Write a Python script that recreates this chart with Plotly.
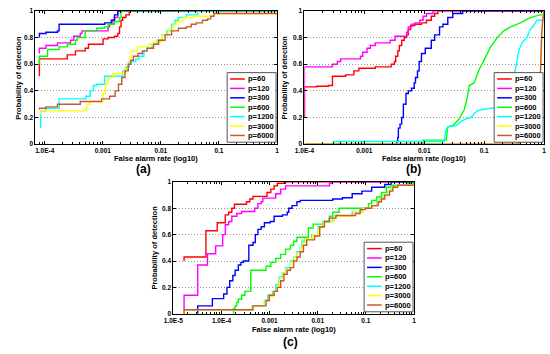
import plotly.graph_objects as go

# ---------------- data ----------------
LABELS = ["p=60", "p=120", "p=300", "p=600", "p=1200", "p=3000", "p=6000"]
COLORS = ["#ff0000", "#ff00ff", "#0000ff", "#00ff00", "#00ffff", "#ffff00", "#cc5533"]

# panel (a)
A_FAR_60 = [8.1e-5, 8.1e-5, 2.44e-4, 3.38e-4, 4.97e-4, 5.66e-4, 1.01e-3, 1.23e-3, 1.59e-3, 1.81e-3, 1.94e-3, 2.06e-3, 2.2e-3, 2.5e-3, 2.85e-3, 1.0]
A_PD_60 = [0.51, 0.64, 0.67, 0.70, 0.72, 0.75, 0.79, 0.80, 0.81, 0.83, 0.88, 0.93, 0.95, 0.97, 1.0, 1.0]
A_FAR_120 = [8.1e-5, 8.1e-5, 1.05e-4, 1.66e-4, 2.78e-4, 3.16e-4, 4.09e-4, 4.37e-4, 1.23e-3, 1.31e-3, 1.49e-3, 1.59e-3, 1.81e-3, 1.0]
A_PD_120 = [0.68, 0.72, 0.74, 0.76, 0.78, 0.81, 0.83, 0.85, 0.88, 0.90, 0.93, 0.95, 1.0, 1.0]
A_FAR_300 = [8.1e-5, 8.1e-5, 1.05e-4, 1.66e-4, 1.77e-4, 1.08e-3, 1.40e-3, 1.59e-3, 1.81e-3, 1.0]
A_PD_300 = [0.80, 0.83, 0.84, 0.85, 0.90, 0.91, 0.93, 0.97, 1.0, 1.0]
A_FAR_600 = [8.1e-5, 8.1e-5, 1.12e-4, 1.77e-4, 2.44e-4, 3.38e-4, 3.6e-4, 4.97e-4, 7.82e-4, 1.08e-3, 1.23e-3, 1.59e-3, 1.94e-3, 2.06e-3, 1.0]
A_PD_600 = [0.60, 0.66, 0.71, 0.73, 0.75, 0.78, 0.80, 0.85, 0.87, 0.88, 0.90, 0.92, 0.95, 1.0, 1.0]
A_FAR_1200 = [8.5e-5, 8.5e-5, 1.05e-4, 1.77e-4, 5.1e-4, 6.04e-4, 6.87e-4, 7.82e-4, 1.08e-3, 2.2e-3, 2.5e-3, 2.85e-3, 3.7e-3, 4.2e-3, 5.1e-3, 5.8e-3, 7.05e-3, 8.6e-3, 1.04e-2, 1.26e-2, 1.53e-2, 1.75e-2, 2.0e-2, 2.74e-2, 4.3e-2, 1.0]
A_PD_1200 = [0.12, 0.25, 0.27, 0.34, 0.36, 0.40, 0.44, 0.45, 0.51, 0.55, 0.58, 0.62, 0.64, 0.66, 0.70, 0.72, 0.75, 0.78, 0.82, 0.85, 0.90, 0.93, 0.95, 0.97, 1.0, 1.0]
A_FAR_3000 = [8.5e-5, 8.5e-5, 5.3e-4, 6.04e-4, 1.01e-3, 1.11e-3, 1.23e-3, 1.49e-3, 2.35e-3, 2.67e-3, 2.96e-3, 3.12e-3, 3.94e-3, 6.2e-3, 7.5e-3, 1.04e-2, 1.35e-2, 1.63e-2, 1.86e-2, 2.41e-2, 3.55e-2, 8.2e-2, 1.0]
A_PD_3000 = [0.22, 0.25, 0.30, 0.32, 0.38, 0.45, 0.50, 0.53, 0.56, 0.60, 0.65, 0.70, 0.73, 0.75, 0.77, 0.82, 0.86, 0.90, 0.92, 0.95, 0.96, 0.98, 0.98]
A_FAR_6000 = [8.1e-5, 8.1e-5, 1.05e-4, 1.66e-4, 4.09e-4, 9.5e-4, 1.31e-3, 1.63e-3, 1.86e-3, 2.12e-3, 2.41e-3, 2.74e-3, 3.04e-3, 3.37e-3, 4.04e-3, 4.79e-3, 5.8e-3, 7.5e-3, 9.14e-3, 1.18e-2, 1.53e-2, 2.0e-2, 2.74e-2, 3.33e-2, 4.05e-2, 5.2e-2, 6.36e-2, 7.2e-2, 8.2e-2, 1.0]
A_PD_6000 = [0.26, 0.27, 0.28, 0.30, 0.32, 0.34, 0.36, 0.40, 0.45, 0.50, 0.55, 0.60, 0.63, 0.66, 0.68, 0.70, 0.72, 0.75, 0.78, 0.82, 0.85, 0.87, 0.88, 0.90, 0.91, 0.93, 0.94, 0.96, 0.98, 0.98]

# panel (b)
B_FAR_60 = [1e-4, 1e-4, 1.6e-4, 2.5e-4, 2.94e-4, 4.87e-4, 6.68e-4, 8.09e-4, 1.52e-3, 2.8e-3, 3.18e-3, 3.34e-3, 3.61e-3, 3.84e-3, 4.2e-3, 4.65e-3, 5.08e-3, 5.41e-3, 5.91e-3, 6.97e-3, 8.98e-3, 1.09e-2, 1.31e-2, 1.49e-2, 1.69e-2, 1.0]
B_PD_60 = [0.20, 0.43, 0.435, 0.44, 0.51, 0.52, 0.55, 0.57, 0.58, 0.60, 0.62, 0.66, 0.70, 0.74, 0.78, 0.80, 0.82, 0.86, 0.89, 0.90, 0.91, 0.93, 0.96, 0.98, 1.0, 1.0]
B_FAR_120 = [1e-4, 1e-4, 2.94e-4, 3.55e-4, 4.03e-4, 8.62e-4, 9.4e-4, 1.11e-3, 1.26e-3, 1.52e-3, 2.7e-3, 3.26e-3, 5.08e-3, 5.41e-3, 6.14e-3, 6.97e-3, 8.43e-3, 9.57e-3, 1.09e-2, 1.40e-2, 1.0]
B_PD_120 = [0.20, 0.58, 0.60, 0.62, 0.64, 0.66, 0.69, 0.72, 0.74, 0.76, 0.78, 0.81, 0.84, 0.88, 0.90, 0.91, 0.93, 0.96, 0.98, 1.0, 1.0]
B_FAR_300 = [3.47e-3, 3.47e-3, 3.61e-3, 3.7e-3, 3.94e-3, 4.2e-3, 4.48e-3, 4.95e-3, 5.41e-3, 6.14e-3, 6.8e-3, 7.14e-3, 7.71e-3, 8.22e-3, 8.98e-3, 1.04e-2, 1.31e-2, 1.49e-2, 1.80e-2, 2.05e-2, 2.47e-2, 2.99e-2, 4.38e-2, 1.0]
B_PD_300 = [0.0, 0.02, 0.05, 0.12, 0.15, 0.20, 0.30, 0.38, 0.40, 0.42, 0.46, 0.50, 0.55, 0.62, 0.68, 0.72, 0.78, 0.82, 0.88, 0.90, 0.95, 0.98, 1.0, 1.0]
B_FAR_600 = [1e-4, 9.57e-3, 9.57e-3, 2.32e-2, 2.47e-2, 2.99e-2, 3.86e-2, 4.66e-2, 5.16e-2, 5.64e-2, 6.82e-2, 8.24e-2, 9.97e-2, 0.128, 0.166, 0.213, 0.275, 0.402, 0.587, 0.859, 1.0]
B_PD_600 = [0.0, 0.0, 0.03, 0.03, 0.13, 0.14, 0.19, 0.26, 0.34, 0.44, 0.46, 0.56, 0.63, 0.73, 0.80, 0.85, 0.88, 0.91, 0.95, 0.97, 0.97]
B_FAR_1200 = [2.94e-4, 2.18e-2, 2.25e-2, 2.47e-2, 3.4e-2, 4.1e-2, 4.96e-2, 6.0e-2, 6.82e-2, 7.74e-2, 9.36e-2, 0.128, 0.242, 0.258, 0.293, 0.312, 0.345, 0.377, 0.428, 0.518, 0.587, 0.667, 0.757, 1.0]
B_PD_1200 = [0.02, 0.02, 0.10, 0.13, 0.14, 0.17, 0.19, 0.20, 0.23, 0.25, 0.26, 0.27, 0.28, 0.33, 0.40, 0.50, 0.60, 0.70, 0.76, 0.80, 0.86, 0.89, 0.93, 0.93]
B_FAR_3000 = [1e-4, 0.36, 0.36, 0.79, 0.80, 0.83, 0.86, 0.90, 0.94, 0.97, 1.0]
B_PD_3000 = [0.0, 0.0, 0.02, 0.02, 0.08, 0.30, 0.55, 0.78, 0.92, 0.97, 1.0]
B_FAR_6000 = [1e-4, 0.38, 0.38, 0.80, 0.81, 0.84, 0.87, 0.91, 0.95, 0.98, 1.0]
B_PD_6000 = [0.0, 0.0, 0.02, 0.02, 0.10, 0.35, 0.60, 0.82, 0.93, 0.98, 1.0]

# panel (c)
C_FAR_60 = [1.67e-5, 1.67e-5, 4.75e-5, 8.17e-5, 1.2e-4, 1.41e-4, 1.64e-4, 1.86e-4, 3.31e-4, 3.87e-4, 4.52e-4, 8.83e-4, 1.06e-3, 1.24e-3, 1.45e-3, 2.14e-3, 1.0]
C_PD_60 = [0.40, 0.43, 0.63, 0.69, 0.75, 0.77, 0.80, 0.83, 0.85, 0.87, 0.89, 0.92, 0.945, 0.97, 0.99, 1.0, 1.0]
C_FAR_120 = [1.67e-5, 1.67e-5, 3.21e-5, 5.12e-5, 7.56e-5, 1.06e-4, 1.2e-4, 1.41e-4, 1.64e-4, 2.08e-4, 2.62e-4, 4.89e-4, 5.72e-4, 6.68e-4, 7.22e-4, 1.34e-3, 1.70e-3, 2.14e-3, 1.75e-2, 1.89e-2, 1.0]
C_PD_120 = [0.0, 0.14, 0.37, 0.455, 0.515, 0.60, 0.675, 0.70, 0.74, 0.76, 0.775, 0.80, 0.835, 0.85, 0.877, 0.91, 0.945, 0.97, 0.99, 1.0, 1.0]
C_FAR_300 = [3.21e-5, 3.21e-5, 6.47e-5, 1.11e-4, 1.3e-4, 1.48e-4, 1.72e-4, 1.92e-4, 2.24e-4, 2.54e-4, 2.84e-4, 3.7e-4, 4.52e-4, 5.05e-4, 5.72e-4, 6.68e-4, 7.8e-4, 1.03e-3, 1.24e-3, 1.84e-3, 2.32e-3, 2.5e-3, 2.93e-3, 3.7e-3, 4.32e-3, 2.05e-2, 3.26e-2, 5.2e-2, 8.3e-2, 0.132, 0.247, 0.336, 1.0]
C_PD_300 = [0.0, 0.06, 0.115, 0.15, 0.20, 0.25, 0.29, 0.33, 0.37, 0.39, 0.40, 0.52, 0.54, 0.60, 0.64, 0.66, 0.69, 0.70, 0.74, 0.75, 0.77, 0.80, 0.82, 0.85, 0.86, 0.87, 0.88, 0.91, 0.93, 0.96, 0.98, 1.0, 1.0]
C_FAR_600 = [1.78e-4, 1.78e-4, 1.92e-4, 2.08e-4, 2.24e-4, 2.62e-4, 3.06e-4, 4.06e-4, 8.43e-4, 1.06e-3, 1.34e-3, 1.70e-3, 2.14e-3, 2.71e-3, 3.16e-3, 3.7e-3, 6.37e-3, 8.04e-3, 1.28e-2, 1.75e-2, 2.05e-2, 2.79e-2, 0.113, 0.132, 0.167, 0.211, 0.267, 0.336, 0.733, 1.0]
C_PD_600 = [0.0, 0.04, 0.06, 0.086, 0.11, 0.14, 0.17, 0.33, 0.36, 0.39, 0.42, 0.45, 0.49, 0.52, 0.55, 0.58, 0.65, 0.68, 0.70, 0.74, 0.77, 0.80, 0.835, 0.86, 0.885, 0.92, 0.96, 0.975, 0.99, 1.0]
C_FAR_1200 = [1.67e-5, 1.67e-5, 4.3e-4, 7.8e-4, 9.1e-4, 1.15e-3, 1.34e-3, 1.57e-3, 1.84e-3, 2.14e-3, 2.71e-3, 3.16e-3, 3.7e-3, 4.32e-3, 4.67e-3, 5.45e-3, 7.44e-3, 1.02e-2, 1.28e-2, 2.05e-2, 5.2e-2, 8.3e-2, 0.132, 0.167, 0.195, 0.228, 0.288, 0.336, 0.425, 1.0]
C_PD_1200 = [0.0, 0.03, 0.06, 0.10, 0.14, 0.17, 0.22, 0.28, 0.31, 0.35, 0.40, 0.43, 0.47, 0.50, 0.55, 0.57, 0.60, 0.66, 0.70, 0.74, 0.77, 0.80, 0.82, 0.85, 0.87, 0.90, 0.93, 0.96, 0.975, 0.975]
C_FAR_3000 = [1.67e-5, 1.67e-5, 4.4e-4, 8.0e-4, 9.5e-4, 1.2e-3, 1.4e-3, 1.62e-3, 1.9e-3, 2.2e-3, 2.75e-3, 3.2e-3, 3.75e-3, 4.4e-3, 4.85e-3, 5.6e-3, 7.8e-3, 1.05e-2, 1.32e-2, 2.2e-2, 5.6e-2, 8.8e-2, 0.138, 0.172, 0.2, 0.235, 0.295, 0.345, 0.44, 1.0]
C_PD_3000 = [0.0, 0.03, 0.06, 0.10, 0.13, 0.17, 0.21, 0.27, 0.31, 0.34, 0.39, 0.43, 0.46, 0.50, 0.54, 0.57, 0.60, 0.65, 0.70, 0.74, 0.77, 0.80, 0.82, 0.85, 0.87, 0.90, 0.93, 0.96, 0.975, 0.975]
C_FAR_6000 = [1.67e-5, 1.67e-5, 4.52e-4, 8.43e-4, 9.84e-4, 1.24e-3, 1.45e-3, 1.70e-3, 1.98e-3, 2.32e-3, 2.71e-3, 3.16e-3, 3.7e-3, 4.32e-3, 5.05e-3, 5.9e-3, 8.6e-3, 1.10e-2, 1.38e-2, 1.75e-2, 2.39e-2, 6.08e-2, 7.6e-2, 9.7e-2, 0.132, 0.181, 0.211, 0.247, 0.311, 0.364, 0.459, 1.0]
C_PD_6000 = [0.0, 0.03, 0.06, 0.10, 0.14, 0.17, 0.20, 0.25, 0.30, 0.33, 0.35, 0.40, 0.43, 0.47, 0.52, 0.56, 0.59, 0.66, 0.70, 0.725, 0.745, 0.76, 0.79, 0.80, 0.82, 0.85, 0.87, 0.90, 0.93, 0.96, 0.975, 0.975]

X_TICKS_AB = [1e-4, 1e-3, 1e-2, 1e-1, 1]
X_TEXT_AB = ["1.0E-4", "0.001", "0.01", "0.1", "1"]
X_TICKS_C = [1e-5, 1e-4, 1e-3, 1e-2, 1e-1, 1]
X_TEXT_C = ["1.0E-5", "1.0E-4", "0.001", "0.01", "0.1", "1"]
Y_TICKS = [0, 0.2, 0.4, 0.6, 0.8, 1]
Y_TEXT = ["0", "0.2", "0.4", "0.6", "0.8", "1"]

# ---------------- figure ----------------
W, H = 550, 354
FONT = "Liberation Sans, Arial, sans-serif"

panels = [
    dict(tag="(a)", ax="", data=[(A_FAR_60, A_PD_60), (A_FAR_120, A_PD_120), (A_FAR_300, A_PD_300), (A_FAR_600, A_PD_600),
                                 (A_FAR_1200, A_PD_1200), (A_FAR_3000, A_PD_3000), (A_FAR_6000, A_PD_6000)],
         shapes=["hv"] * 7, xr=[-4.16, 0], box=(26, 273, 7, 143), tv=X_TICKS_AB, tt=X_TEXT_AB,
         ytitle_x=8.5, xtitle_y=157.5, tag_xy=(136, 168)),
    dict(tag="(b)", ax="2", data=[(B_FAR_60, B_PD_60), (B_FAR_120, B_PD_120), (B_FAR_300, B_PD_300), (B_FAR_600, B_PD_600),
                                  (B_FAR_1200, B_PD_1200), (B_FAR_3000, B_PD_3000), (B_FAR_6000, B_PD_6000)],
         shapes=["hv", "hv", "hv", "linear", "linear", "linear", "linear"], xr=[-4.0, 0], box=(301, 546, 7, 143),
         tv=X_TICKS_AB, tt=X_TEXT_AB, ytitle_x=281, xtitle_y=157.5, tag_xy=(413, 168)),
    dict(tag="(c)", ax="3", data=[(C_FAR_60, C_PD_60), (C_FAR_120, C_PD_120), (C_FAR_300, C_PD_300), (C_FAR_600, C_PD_600),
                                  (C_FAR_1200, C_PD_1200), (C_FAR_3000, C_PD_3000), (C_FAR_6000, C_PD_6000)],
         shapes=["hv"] * 7, xr=[-5.0, 0], box=(167, 413, 181.5, 316), tv=X_TICKS_C, tt=X_TEXT_C,
         ytitle_x=148, xtitle_y=332, tag_xy=(287, 345)),
]

minor_vals = [k * 10.0 ** e for e in range(-6, 0) for k in range(2, 10)]
tickfont = dict(family=FONT, size=6.5, color="black", weight="bold")

fig = go.Figure()
layout = dict(width=W, height=H, margin=dict(l=0, r=0, t=0, b=0), autosize=False,
              paper_bgcolor="white", plot_bgcolor="white", showlegend=False)
shapes, annotations = [], []

for p in panels:
    ax = p["ax"]
    l, r, t, b = p["box"]
    for (fx, pd), lab, col, sh in zip(p["data"], LABELS, COLORS, p["shapes"]):
        fig.add_trace(go.Scatter(x=fx, y=pd, mode="lines", name=lab,
                                 line=dict(color=col, width=1.4, shape=sh),
                                 xaxis="x" + ax, yaxis="y" + ax, hoverinfo="skip"))
    layout["xaxis" + ax] = dict(
        type="log", domain=[l / W, r / W], range=p["xr"], anchor="y" + ax,
        tickmode="array", tickvals=p["tv"], ticktext=p["tt"], ticks="inside", ticklen=3,
        tickcolor="black", showline=True, linecolor="black", linewidth=1, mirror="ticks",
        showgrid=False, zeroline=False, tickfont=tickfont,
        minor=dict(tickmode="array", tickvals=minor_vals, ticks="inside", ticklen=2,
                   tickcolor="black", showgrid=False))
    layout["yaxis" + ax] = dict(
        domain=[1 - b / H, 1 - t / H], range=[0, 1], anchor="x" + ax,
        tickmode="array", tickvals=Y_TICKS, ticktext=Y_TEXT, ticks="inside", ticklen=3,
        tickcolor="black", showline=True, linecolor="black", linewidth=1, mirror="ticks",
        showgrid=True, gridcolor="#999999", griddash="1px,2px", gridwidth=1, zeroline=False,
        tickfont=tickfont)

    # axis titles and panel tag
    annotations.append(dict(text="Probability of detection", x=p["ytitle_x"] / W, y=1 - ((t + b) / 2) / H,
                            xref="paper", yref="paper", showarrow=False, textangle=-90,
                            xanchor="center", yanchor="middle",
                            font=dict(family=FONT, size=7.5, color="black", weight="bold")))
    annotations.append(dict(text="False alarm rate (log10)", x=((l + r) / 2) / W, y=1 - p["xtitle_y"] / H,
                            xref="paper", yref="paper", showarrow=False, xanchor="center", yanchor="middle",
                            font=dict(family=FONT, size=7.5, color="black", weight="bold")))
    annotations.append(dict(text=p["tag"], x=p["tag_xy"][0] / W, y=1 - p["tag_xy"][1] / H,
                            xref="paper", yref="paper", showarrow=False, xanchor="center", yanchor="middle",
                            font=dict(family=FONT, size=12, color="black", weight="bold")))

    # legend box
    lw, lh = 50, 71
    lx1 = r - 1
    lx0 = lx1 - lw
    ly1 = b - 2
    ly0 = ly1 - lh
    shapes.append(dict(type="rect", xref="paper", yref="paper",
                       x0=lx0 / W, x1=lx1 / W, y0=1 - ly1 / H, y1=1 - ly0 / H,
                       fillcolor="white", line=dict(color="#555555", width=1), layer="above"))
    for i, (lab, col) in enumerate(zip(LABELS, COLORS)):
        ry = ly0 + 6.5 + i * 9.6
        shapes.append(dict(type="line", xref="paper", yref="paper",
                           x0=(lx0 + 3) / W, x1=(lx0 + 18) / W, y0=1 - ry / H, y1=1 - ry / H,
                           line=dict(color=col, width=1.5), layer="above"))
        annotations.append(dict(text=lab, x=(lx0 + 19) / W, y=1 - ry / H, xref="paper", yref="paper",
                                showarrow=False, xanchor="left", yanchor="middle",
                                font=dict(family=FONT, size=7.5, color="black", weight="bold")))

layout["shapes"] = shapes
layout["annotations"] = annotations
fig.update_layout(**layout)
fig.write_html("out.html", config={"displayModeBar": False},
               post_script="document.body.style.margin='0';document.body.style.overflow='hidden';")
